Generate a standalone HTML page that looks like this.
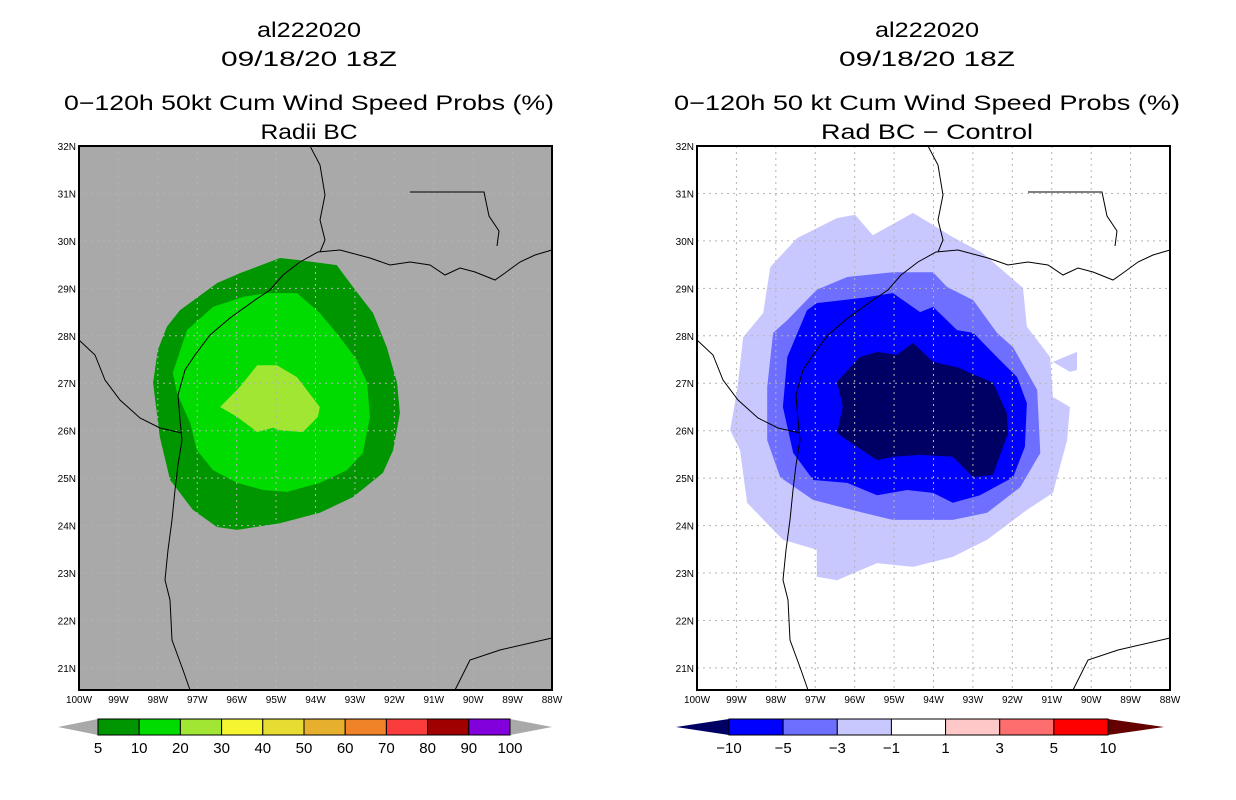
<!DOCTYPE html>
<html><head><meta charset="utf-8"><style>
body{margin:0;background:#fff;width:1236px;height:800px;overflow:hidden}
svg{display:block}
text{font-family:"Liberation Sans",sans-serif;fill:#000}
</style></head><body>
<svg id="root" width="1236" height="800"></svg>
<script>
// ---- data (lon, lat pairs) ----
const greenDark=[[-97.44,28.54],[-96.5,29.11],[-95.92,29.32],[-94.9,29.64],[-94.47,29.6],[-93.46,29.49],[-93.05,29.03],[-92.54,28.48],[-92.19,27.76],[-91.93,27.01],[-91.86,26.37],[-92.03,25.59],[-92.29,25.11],[-93.05,24.6],[-93.89,24.27],[-94.9,24.05],[-95.99,23.91],[-96.5,23.97],[-97.11,24.33],[-97.69,24.96],[-97.95,25.87],[-98.12,27.01],[-98.0,27.7],[-97.77,28.19]];
const greenMid=[[-95.84,28.82],[-95.23,28.9],[-94.47,28.9],[-93.89,28.48],[-93.38,27.97],[-92.95,27.49],[-92.69,27.01],[-92.62,26.29],[-92.8,25.53],[-93.2,25.17],[-93.89,24.9],[-94.72,24.71],[-95.33,24.75],[-95.99,24.9],[-96.6,25.17],[-97.01,25.59],[-97.18,26.16],[-97.51,26.79],[-97.62,27.22],[-97.26,28.12],[-96.6,28.61]];
const greenLight=[[-95.48,27.38],[-94.98,27.38],[-94.47,27.13],[-93.89,26.5],[-93.94,26.29],[-94.32,25.97],[-94.9,26.01],[-95.08,26.06],[-95.48,25.97],[-95.99,26.29],[-96.42,26.5],[-95.92,26.92]];
const blueLight=[[-97.46,30.06],[-96.45,30.48],[-95.99,30.55],[-95.54,30.12],[-94.52,30.59],[-93.51,30.08],[-92.75,29.74],[-91.73,29.01],[-91.63,28.19],[-91.04,27.55],[-90.97,26.71],[-90.54,26.5],[-90.61,25.8],[-90.97,24.69],[-91.63,24.33],[-92.64,23.7],[-93.51,23.34],[-94.52,23.13],[-95.43,23.21],[-96.45,22.85],[-96.96,22.92],[-96.96,23.49],[-97.82,23.7],[-98.73,24.48],[-98.91,25.59],[-99.16,26.01],[-98.98,26.86],[-98.83,27.97],[-98.32,28.48],[-98.14,29.45]];
const blueBlob=[[-90.97,27.45],[-90.36,27.66],[-90.36,27.28],[-90.54,27.24]];
const blueMid=[[-96.96,28.97],[-96.19,29.24],[-95.03,29.34],[-94.01,29.34],[-93.66,29.03],[-92.99,28.75],[-92.39,28.06],[-91.98,27.76],[-91.37,26.86],[-91.29,25.53],[-91.8,24.81],[-92.64,24.27],[-93.51,24.12],[-95.03,24.12],[-95.78,24.27],[-97.05,24.54],[-97.89,25.02],[-98.22,25.8],[-98.22,26.92],[-98.07,28.06],[-97.71,28.33]];
const blueStrong=[[-96.96,28.69],[-95.78,28.8],[-95.03,28.9],[-94.34,28.5],[-94.01,28.61],[-93.4,28.12],[-92.99,28.06],[-92.39,27.55],[-91.88,27.13],[-91.63,26.58],[-91.68,25.66],[-91.98,25.02],[-92.82,24.64],[-93.51,24.48],[-94.01,24.69],[-94.67,24.75],[-95.43,24.64],[-96.19,24.9],[-97.05,24.96],[-97.56,25.53],[-97.82,26.5],[-97.71,27.55],[-97.21,28.54]];
const blueDark=[[-96.45,27.03],[-95.87,27.55],[-95.43,27.66],[-94.93,27.6],[-94.52,27.85],[-94.01,27.45],[-93.4,27.34],[-92.49,27.01],[-92.14,26.37],[-92.11,25.95],[-92.49,25.07],[-92.99,25.02],[-93.51,25.45],[-94.34,25.49],[-95.03,25.45],[-95.43,25.38],[-95.94,25.66],[-96.45,25.95],[-96.3,26.5]];
const lonTicks=[100,99,98,97,96,95,94,93,92,91,90,89,88];
const latTicks=[32,31,30,29,28,27,26,25,24,23,22,21];
const leftCbLabels=["5","10","20","30","40","50","60","70","80","90","100"];
const leftCbColors=["#009600","#00dc00","#a0e632","#f5f532","#e6dc32","#e6af2d","#f08228","#fa3c3c","#a00000","#8200dc"];
const rightCbLabels=["\u221210","\u22125","\u22123","\u22121","1","3","5","10"];
const rightCbColors=["#0000ff","#6e6eff","#c8c8ff","#ffffff","#ffc8c8","#ff6e6e","#ff0000"];
// geography in panel-relative pixels
const coast=[[111,544],[104,524],[93,494],[91,454],[86,434],[89,404],[93,374],[96,344],[99,319],[103,294],[101,274],[99,249],[106,224],[116,209],[131,189],[151,172],[176,154],[191,144],[204,129],[221,116],[239,106],[261,104],[291,112],[311,119],[331,116],[351,119],[366,129],[381,122],[396,126],[416,134],[426,127],[441,116],[456,109],[473,104]];
const border1=[[103,287],[81,282],[61,272],[41,254],[26,234],[16,209],[0,194]];
const border2=[[241,106],[246,94],[241,74],[246,49],[241,19],[231,0]];
const border3=[[331,46],[405,46],[410,70],[420,85],[418,100]];
const yuc=[[376,544],[391,514],[421,504],[473,492]];

const NS="http://www.w3.org/2000/svg";
const root=document.getElementById('root');
function mk(tag,attrs,parent){const e=document.createElementNS(NS,tag);for(const k in attrs)e.setAttribute(k,attrs[k]);(parent||root).appendChild(e);return e;}
const W=473,H=544;
function xS(lon){return (lon+100)/12*W;}
function yS(lat){return (32-lat)/(32-20.535)*H;}
function pts(a){return a.map(p=>xS(p[0]).toFixed(1)+','+yS(p[1]).toFixed(1)).join(' ');}
function pix(a){return a.map(p=>p[0]+','+p[1]).join(' ');}

function panel(ox,bg,polys,titles,lens,cx,pname){
  const g=mk('g',{transform:`translate(${ox},146)`});
  
  
  const bgr=mk('rect',{x:0,y:0,width:W,height:H,fill:bg},g);
  
  
  polys.forEach(p=>{
    const e=mk('polygon',{points:pts(p.d),fill:p.c},g);
    
    
  });
  const grid=mk('g',{stroke:'#b4b4b4','stroke-width':1,'stroke-dasharray':'2,4'},g);
  
  
  lonTicks.slice(1,-1).forEach(l=>{const x=xS(-l);mk('line',{x1:x,y1:0,x2:x,y2:H},grid);});
  latTicks.slice(1).forEach(l=>{const y=yS(l);mk('line',{x1:0,y1:y,x2:W,y2:y},grid);});
  const geo=mk('g',{fill:'none',stroke:'#000','stroke-width':1},g);
  
  
  [coast,border1,border2,border3,yuc].forEach(a=>mk('polyline',{points:pix(a)},geo));
  const fr=mk('rect',{x:0,y:0,width:W,height:H,fill:'none',stroke:'#000','stroke-width':2},g);
  
  
  lonTicks.forEach(l=>{const t=mk('text',{x:xS(-l),y:H+13,'font-size':10,'text-anchor':'middle'},g);t.textContent=l+'W';
    });
  latTicks.forEach(l=>{const t=mk('text',{x:-3,y:yS(l)+4,'font-size':10,'text-anchor':'end'},g);t.textContent=l+'N';
    });
  const ty=[37,66,110,139];
  titles.forEach((s,i)=>{const t=mk('text',{x:cx,y:ty[i],'font-size':21,'text-anchor':'middle',textLength:lens[i],lengthAdjust:'spacingAndGlyphs'});t.textContent=s;
    });
}
panel(79,'#a9a9a9',[{d:greenDark,c:'#009600',n:'contour-5-10'},{d:greenMid,c:'#00dc00',n:'contour-10-20'},{d:greenLight,c:'#a0e632',n:'contour-20-30'}],
  ['al222020','09/18/20 18Z','0\u2212120h 50kt Cum Wind Speed Probs (%)','Radii BC'],[104,176,490,97],309,'left-map');
panel(697,'#ffffff',[{d:blueLight,c:'#c8c8ff',n:'contour-minus1-3'},{d:blueBlob,c:'#c8c8ff',n:'contour-blob'},{d:blueMid,c:'#6e6eff',n:'contour-minus3-5'},{d:blueStrong,c:'#0000ff',n:'contour-minus5-10'},{d:blueDark,c:'#000064',n:'contour-below-minus10'}],
  ['al222020','09/18/20 18Z','0\u2212120h 50 kt Cum Wind Speed Probs (%)','Rad BC \u2212 Control'],[104,176,506,212],927,'right-map');

function colorbar(x0,x1,tl,tr,colors,labels,lc,rc,name){
  const g=mk('g',{});
  
  
  const y0=719,y1=735,ym=727,bw=(x1-x0)/colors.length;
  mk('polygon',{points:`${tl},${ym} ${x0},${y0} ${x0},${y1}`,fill:lc},g);
  mk('polygon',{points:`${tr},${ym} ${x1},${y0} ${x1},${y1}`,fill:rc},g);
  colors.forEach((c,i)=>{const r=mk('rect',{x:x0+i*bw,y:y0,width:bw,height:y1-y0,fill:c,stroke:'#000','stroke-width':1},g);
    });
  labels.forEach((s,i)=>{const t=mk('text',{x:x0+i*bw,y:753,'font-size':15,'text-anchor':'middle'},g);t.textContent=s;
    });
}
colorbar(98,510,58,552,leftCbColors,leftCbLabels,'#a9a9a9','#a9a9a9','left-colorbar');
colorbar(729,1108,676,1164,rightCbColors,rightCbLabels,'#000064','#640000','right-colorbar');
</script>
</body></html>
